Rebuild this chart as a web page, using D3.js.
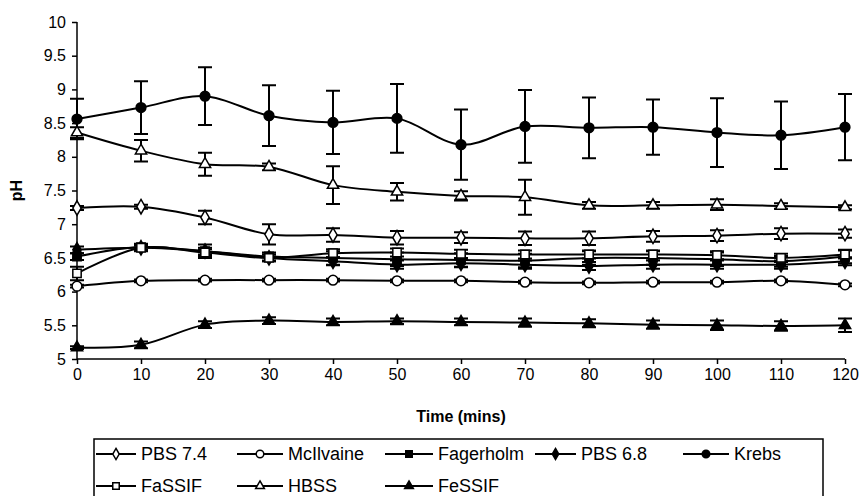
<html>
<head>
<script src="https://d3js.org/d3.v7.min.js"></script>
<style>
  body { margin: 0; background: #fff; }
  text { font-family: "Liberation Sans", Arial, sans-serif; fill: #000; }
  .axis path, .axis line { stroke: #000; stroke-width: 1.5; }
  .axis text { font-size: 16px; }
</style>
</head>
<body>
<svg id="chart" width="863" height="496"></svg>
<script>
const times = [0, 10, 20, 30, 40, 50, 60, 70, 80, 90, 100, 110, 120];
const yTicks = [5, 5.5, 6, 6.5, 7, 7.5, 8, 8.5, 9, 9.5, 10];

const pbs74 = [7.24, 7.26, 7.10, 6.85, 6.84, 6.80, 6.80, 6.79, 6.79, 6.82, 6.83, 6.86, 6.86];
const pbs74Err = [0.03, 0.03, 0.1, 0.15, 0.1, 0.1, 0.08, 0.1, 0.1, 0.08, 0.08, 0.08, 0.06];
const mcilvaine = [6.08, 6.16, 6.17, 6.17, 6.17, 6.16, 6.16, 6.14, 6.13, 6.14, 6.14, 6.16, 6.10];
const mcilvaineErr = [0.02, 0.02, 0.02, 0.02, 0.02, 0.02, 0.02, 0.02, 0.02, 0.02, 0.02, 0.02, 0.02];
const fagerholm = [6.52, 6.66, 6.60, 6.52, 6.50, 6.48, 6.47, 6.46, 6.50, 6.50, 6.48, 6.45, 6.52];
const fagerholmErr = [0.05, 0.05, 0.1, 0.06, 0.1, 0.1, 0.1, 0.1, 0.1, 0.1, 0.1, 0.08, 0.1];
const pbs68 = [6.62, 6.65, 6.60, 6.50, 6.45, 6.40, 6.42, 6.40, 6.38, 6.40, 6.40, 6.40, 6.45];
const pbs68Err = [0.05, 0.03, 0.05, 0.05, 0.06, 0.06, 0.06, 0.06, 0.06, 0.06, 0.06, 0.06, 0.06];
const krebs = [8.56, 8.73, 8.90, 8.61, 8.51, 8.57, 8.18, 8.45, 8.43, 8.44, 8.36, 8.32, 8.44];
const krebsErr = [0.3, 0.39, 0.43, 0.45, 0.47, 0.51, 0.52, 0.54, 0.45, 0.41, 0.51, 0.5, 0.49];
const fassif = [6.27, 6.65, 6.58, 6.50, 6.57, 6.58, 6.56, 6.55, 6.55, 6.55, 6.54, 6.50, 6.55];
const fassifErr = [0.1, 0.05, 0.05, 0.05, 0.06, 0.06, 0.06, 0.06, 0.06, 0.06, 0.06, 0.06, 0.06];
const hbss = [8.36, 8.09, 7.89, 7.85, 7.58, 7.48, 7.42, 7.40, 7.28, 7.28, 7.29, 7.27, 7.25];
const hbssErr = [0.08, 0.16, 0.17, 0.05, 0.28, 0.13, 0.07, 0.26, 0.05, 0.05, 0.08, 0.04, 0.03];
const fessif = [5.17, 5.21, 5.51, 5.57, 5.55, 5.56, 5.55, 5.54, 5.53, 5.51, 5.50, 5.49, 5.50];
const fessifErr = [0.02, 0.05, 0.05, 0.05, 0.05, 0.04, 0.05, 0.06, 0.06, 0.06, 0.07, 0.07, 0.1];

const series = [
  { name: "PBS 7.4", values: pbs74, err: pbs74Err, shape: "diamond", filled: false },
  { name: "McIlvaine", values: mcilvaine, err: mcilvaineErr, shape: "circle", filled: false },
  { name: "Fagerholm", values: fagerholm, err: fagerholmErr, shape: "square", filled: true },
  { name: "PBS 6.8", values: pbs68, err: pbs68Err, shape: "diamond", filled: true },
  { name: "Krebs", values: krebs, err: krebsErr, shape: "circle", filled: true },
  { name: "FaSSIF", values: fassif, err: fassifErr, shape: "square", filled: false },
  { name: "HBSS", values: hbss, err: hbssErr, shape: "triangle", filled: false },
  { name: "FeSSIF", values: fessif, err: fessifErr, shape: "triangle", filled: true }
];

const svg = d3.select("#chart");
const margins = { left: 77, right: 18, top: 22, bottom: 137 };
const chartWidth = 863 - margins.left - margins.right;
const chartHeight = 496 - margins.top - margins.bottom;

const xScale = d3.scaleLinear().domain([0, 120]).range([0, chartWidth]);
const yScale = d3.scaleLinear().domain([5, 10]).range([chartHeight, 0]);

const plot = svg.append("g")
  .attr("transform", "translate(" + margins.left + "," + margins.top + ")");

plot.append("g")
  .attr("class", "axis")
  .call(d3.axisLeft(yScale).tickValues(yTicks).tickSize(5).tickPadding(6).tickFormat(d3.format("")))
  .call(g => g.select(".domain").attr("d", "M0,0V" + chartHeight));

plot.append("g")
  .attr("class", "axis")
  .attr("transform", "translate(0," + chartHeight + ")")
  .call(d3.axisBottom(xScale).tickValues(times).tickSize(5).tickPadding(5))
  .call(g => g.select(".domain").attr("d", "M0,0H" + chartWidth));

const symbolTypes = {
  circle: d3.symbolCircle,
  square: d3.symbolSquare,
  diamond: d3.symbolDiamond,
  triangle: d3.symbolTriangle
};
const symbolSizes = { circle: 75, square: 70, diamond: 60, triangle: 55 };

function drawMarker(g, s, x, y, k) {
  g.append("path")
    .attr("d", d3.symbol().type(symbolTypes[s.shape]).size(symbolSizes[s.shape] * k)())
    .attr("transform", "translate(" + x + "," + y + ")")
    .attr("fill", s.filled ? "#000" : "#fff")
    .attr("stroke", "#000")
    .attr("stroke-width", 1.5);
}

const line = d3.line()
  .x((d, i) => xScale(times[i]))
  .y(d => yScale(d))
  .curve(d3.curveCatmullRom.alpha(0.5));

series.forEach(s => {
  const g = plot.append("g");
  g.append("path")
    .attr("d", line(s.values))
    .attr("fill", "none")
    .attr("stroke", "#000")
    .attr("stroke-width", 2);

  s.values.forEach((v, i) => {
    const x = xScale(times[i]);
    const y1 = yScale(v + s.err[i]);
    const y2 = yScale(v - s.err[i]);
    g.append("path")
      .attr("d", "M" + x + "," + y1 + "V" + y2 +
        "M" + (x - 7) + "," + y1 + "H" + (x + 7) +
        "M" + (x - 7) + "," + y2 + "H" + (x + 7))
      .attr("stroke", "#000")
      .attr("stroke-width", 2)
      .attr("fill", "none");
    drawMarker(g, s, x, yScale(v), 1);
  });
});

svg.append("text")
  .attr("x", margins.left + chartWidth / 2)
  .attr("y", 422)
  .attr("text-anchor", "middle")
  .style("font-size", "16px")
  .style("font-weight", "bold")
  .text("Time (mins)");

svg.append("text")
  .attr("transform", "translate(22," + (margins.top + chartHeight / 2) + ") rotate(-90)")
  .attr("text-anchor", "middle")
  .style("font-size", "16px")
  .style("font-weight", "bold")
  .text("pH");

// legend
const legend = svg.append("g");
legend.append("rect")
  .attr("x", 94).attr("y", 439)
  .attr("width", 729).attr("height", 70)
  .attr("fill", "#fff")
  .attr("stroke", "#000")
  .attr("stroke-width", 1.5);

const legendLineX = [96, 237, 385, 535, 683];
const legendTextX = [141, 288, 438, 581, 734];
series.forEach((s, i) => {
  const col = i < 5 ? i : i - 5;
  const lx = legendLineX[col];
  const len = legendTextX[col] - 5 - lx;
  const ly = i < 5 ? 454 : 486;
  legend.append("line")
    .attr("x1", lx).attr("x2", lx + len)
    .attr("y1", ly).attr("y2", ly)
    .attr("stroke", "#000").attr("stroke-width", 2);
  drawMarker(legend, s, lx + len / 2, ly, 0.6);
  legend.append("text")
    .attr("x", legendTextX[col])
    .attr("y", ly + 6)
    .style("font-size", "18px")
    .text(s.name);
});
</script>
</body>
</html>
